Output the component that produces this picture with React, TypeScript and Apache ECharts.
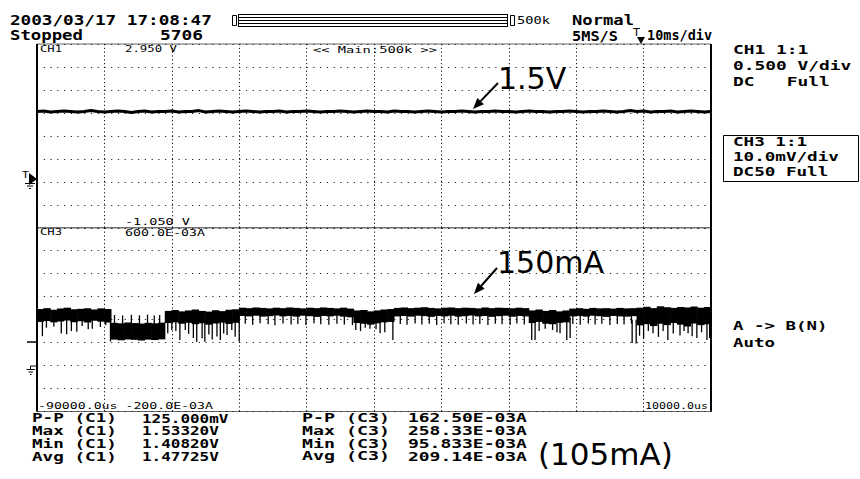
import React, { useEffect, useRef } from "react";
import * as echarts from "echarts";

// ---------- time base: -90 ms .. +10 ms, 10 ms/div ----------
const T_START = -90;
const T_STEP = 1;
const timeMin = -90;
const timeMax = 10;

// CH1 (V), one reading per ms from -90 ms to +10 ms
const ch1Volts = [
  1.48, 1.49, 1.47, 1.48, 1.49, 1.48, 1.47, 1.48, 1.5, 1.48,
  1.47, 1.48, 1.49, 1.48, 1.46, 1.48, 1.49, 1.47, 1.48, 1.48,
  1.49, 1.47, 1.48, 1.48, 1.5, 1.47, 1.48, 1.49, 1.48, 1.47,
  1.48, 1.49, 1.48, 1.47, 1.48, 1.48, 1.49, 1.47, 1.48, 1.48,
  1.49, 1.48, 1.47, 1.48, 1.48, 1.49, 1.48, 1.47, 1.48, 1.49,
  1.48, 1.48, 1.47, 1.49, 1.48, 1.48, 1.47, 1.48, 1.49, 1.48,
  1.47, 1.48, 1.48, 1.49, 1.48, 1.47, 1.48, 1.48, 1.49, 1.48,
  1.48, 1.47, 1.48, 1.49, 1.48, 1.48, 1.47, 1.48, 1.48, 1.49,
  1.48, 1.47, 1.48, 1.48, 1.49, 1.48, 1.47, 1.48, 1.5, 1.48,
  1.49, 1.47, 1.48, 1.48, 1.49, 1.47, 1.48, 1.49, 1.48, 1.47, 1.48,
];

// CH3 (mA) envelope of the noisy trace: one [low, high] per 1 ms slot, -90 ms .. +10 ms
const ch3Upper = [
  246, 250, 243, 248, 252, 245, 247, 250, 244, 249, 246,
  186, 184, 187, 185, 183, 186, 184, 187,
  238, 242, 236, 240, 244, 238, 235, 241, 237, 243, 245,
  252, 250, 253, 251, 249, 252, 250, 253, 251, 249, 252, 250, 253, 251, 249, 252, 248,
  240, 242, 236, 240, 244, 246,
  251, 253, 250, 252, 254, 251, 249, 252, 253, 250, 252, 251, 249, 253, 250, 252, 251, 249, 252, 250,
  240, 244, 238, 242, 236, 240,
  248, 250, 247, 251, 249, 250, 248, 251, 249, 250,
  252, 256, 250, 258, 254, 251, 255, 253, 257, 252, 255,
];
const ch3Lower = [
  190, 194, 188, 192, 196, 189, 193, 187, 195, 191, 188,
  113, 110, 114, 112, 109, 113, 111, 114,
  185, 188, 182, 186, 180, 184, 178, 183, 187, 181, 186,
  216, 214, 217, 213, 215, 218, 214, 216, 213, 217, 215, 212, 216, 214, 217, 213, 210,
  185, 182, 178, 184, 188, 190,
  214, 216, 213, 217, 215, 212, 216, 214, 217, 213, 215, 218, 214, 216, 212, 215, 217, 213, 216, 214,
  185, 190, 182, 180, 186, 188,
  214, 216, 213, 217, 215, 212, 216, 214, 213, 215,
  175, 180, 172, 182, 176, 185, 178, 170, 183, 176, 180,
];

// CH3 narrow glitches: [time ms, from mA, to mA]
const ch3Spikes = [
  [-89.2, 200, 128], [-88.6, 200, 165], [-87.5, 200, 170], [-86.4, 200, 140], [-85.6, 200, 136],
  [-84.9, 200, 150], [-84.1, 200, 147], [-83.3, 200, 172], [-82.4, 200, 158], [-81.8, 200, 160],
  [-80.6, 200, 168], [-79.8, 200, 175],
  [-79.1, 240, 105],
  [-78.5, 180, 220], [-77.3, 180, 218], [-76.0, 180, 221], [-74.8, 180, 219], [-73.6, 180, 222],
  [-72.6, 180, 218], [-71.8, 180, 220],
  [-70.6, 200, 141], [-70.0, 200, 155], [-69.4, 200, 150], [-68.8, 200, 111], [-68.0, 200, 155],
  [-67.5, 200, 138], [-66.8, 200, 120], [-66.3, 200, 104], [-65.5, 200, 119], [-65.1, 200, 104],
  [-64.5, 200, 135], [-64.0, 200, 114], [-63.3, 200, 126], [-62.8, 200, 111], [-62.3, 200, 140],
  [-61.8, 200, 133], [-61.1, 200, 155], [-60.6, 200, 125], [-60.0, 230, 104],
  [-59.1, 225, 182], [-58.0, 225, 178], [-56.9, 225, 184], [-55.7, 225, 180], [-54.7, 225, 176],
  [-53.5, 225, 183], [-52.3, 225, 179], [-51.3, 225, 181], [-50.1, 225, 177], [-48.9, 225, 184],
  [-47.9, 225, 180], [-46.7, 225, 178], [-45.5, 225, 182], [-44.4, 225, 179], [-43.2, 225, 176],
  [-42.7, 210, 155], [-42.0, 210, 150], [-41.3, 210, 165], [-40.6, 210, 160], [-39.7, 210, 158],
  [-39.1, 210, 141], [-38.4, 210, 145], [-37.2, 210, 111],
  [-36.1, 225, 181], [-35.1, 225, 178], [-33.9, 225, 183], [-32.9, 225, 179], [-31.8, 225, 182],
  [-30.7, 225, 177], [-29.6, 225, 184], [-28.6, 225, 180], [-27.5, 225, 178], [-26.3, 225, 183],
  [-25.3, 225, 179], [-24.3, 225, 181], [-23.1, 225, 177], [-22.0, 225, 182], [-21.0, 225, 180],
  [-19.8, 225, 178], [-18.8, 225, 183], [-17.7, 225, 179], [-16.6, 225, 111],
  [-16.1, 210, 111], [-15.5, 210, 150], [-14.6, 210, 160], [-13.5, 210, 155], [-12.85, 210, 145],
  [-12.4, 210, 141], [-11.4, 210, 111], [-10.9, 210, 120],
  [-10.5, 225, 181], [-9.4, 225, 178], [-8.2, 225, 183], [-7.2, 225, 179], [-6.2, 225, 182],
  [-5.0, 225, 177], [-3.9, 225, 181], [-2.9, 225, 179], [-1.8, 225, 183],
  [-1.7, 200, 98], [-1.1, 200, 96], [-0.6, 200, 130], [0.0, 200, 120], [0.7, 200, 150],
  [1.4, 200, 141], [2.2, 200, 125], [2.9, 200, 150], [3.6, 200, 111], [4.4, 200, 140],
  [5.4, 200, 131], [6.0, 200, 150], [6.6, 200, 141], [7.2, 200, 128], [7.9, 200, 120],
  [8.6, 200, 145], [9.4, 200, 111], [9.8, 200, 120],
];

// ---------- screen texts ----------
const headerDate = "2003/03/17 17:08:47";
const headerState = "Stopped";
const headerCount = "5706";
const headerMode = "Normal";
const headerRate = "5MS/S";
const headerTimeDiv = "10ms/div";
const memLabel = "500k";
const ch1Info = ["CH1 1:1", "0.500 V/div", "DC   Full"];
const ch3Info = ["CH3 1:1", "10.0mV/div", "DC50 Full"];
const trigInfo = ["A -> B(N)", "Auto"];
const ch1Top = "2.950 V";
const ch1Bottom = "-1.050 V";
const ch3Top = "600.0E-03A";
const ch3Bottom = "-200.0E-03A";
const timeLeft = "-90000.0us";
const timeRight = "10000.0us";
const zoomLabel = "<< Main:500k >>";
const measC1Labels = ["P-P (C1)", "Max (C1)", "Min (C1)", "Avg (C1)"];
const measC1Values = ["125.000mV", "1.53320V", "1.40820V", "1.47725V"];
const measC3Labels = ["P-P (C3)", "Max (C3)", "Min (C3)", "Avg (C3)"];
const measC3Values = ["162.50E-03A", "258.33E-03A", "95.833E-03A", "209.14E-03A"];
const noteV = "1.5V";
const noteI = "150mA";
const noteMin = "(105mA)";

const MONO = '"DejaVu Sans Mono", "Liberation Mono", monospace';
const SANS = '"DejaVu Sans", Verdana, sans-serif';

function mono(text: string, x: number, cy: number, width: number, size: number, bold: boolean) {
  const natural = text.length * 0.602 * size;
  return {
    type: "text",
    x,
    y: cy,
    scaleX: width / natural,
    silent: true,
    style: {
      text,
      font: `${bold ? "bold " : ""}${size}px ${MONO}`,
      fill: "#000",
      verticalAlign: "middle",
      textVerticalAlign: "middle",
    },
  };
}

function arrow(tx: number, ty: number, hx: number, hy: number) {
  const dx = tx - hx;
  const dy = ty - hy;
  const len = Math.sqrt(dx * dx + dy * dy);
  const ux = dx / len;
  const uy = dy / len;
  const bx = hx + ux * 11;
  const by = hy + uy * 11;
  const px = -uy * 4.5;
  const py = ux * 4.5;
  return [
    { type: "line", silent: true, shape: { x1: tx, y1: ty, x2: bx, y2: by }, style: { stroke: "#000", lineWidth: 2 } },
    {
      type: "polygon",
      silent: true,
      shape: { points: [[hx, hy], [bx + px, by + py], [bx - px, by - py]] },
      style: { fill: "#000" },
    },
  ];
}

export default function App() {
  const ref = useRef<HTMLDivElement>(null);

  useEffect(() => {
    if (!ref.current) return;
    const chart = echarts.init(ref.current, undefined, { renderer: "svg" });

    const ch1Data = ch1Volts.map((v, i) => [T_START + i * T_STEP, v]);
    const bandRows = ch3Upper.map((u, i) => [
      T_START + i * T_STEP, T_START + (i + 1) * T_STEP, ch3Lower[i], u,
    ]);

    const gridLeft = 37;
    const gridTop = 44;
    const gridW = 674;
    const gridH = 183.75;

    const xAxisBase = {
      type: "value",
      min: timeMin,
      max: timeMax,
      interval: 10,
      axisLabel: { show: false },
      axisTick: { show: false },
      axisLine: { show: false },
      splitLine: { show: true, lineStyle: { color: "#111", width: 1, type: [1.2, 2.6] } },
    };
    const divAxis = (gridIndex: number) => ({
      type: "value",
      gridIndex,
      min: 0,
      max: 8,
      interval: 1,
      axisLabel: { show: false },
      axisTick: { show: false },
      axisLine: { show: false },
      splitLine: { show: true, lineStyle: { color: "#222", width: 1, type: [1.2, 5.54] } },
    });
    const dataAxis = (gridIndex: number, min: number, max: number) => ({
      type: "value",
      gridIndex,
      min,
      max,
      show: false,
      splitLine: { show: false },
    });

    const graphics: any[] = [];
    // frame accents
    graphics.push({ type: "line", silent: true, shape: { x1: gridLeft, y1: gridTop, x2: gridLeft, y2: gridTop + 2 * gridH }, style: { stroke: "#000", lineWidth: 2 } });
    graphics.push({ type: "line", silent: true, shape: { x1: gridLeft + gridW, y1: gridTop, x2: gridLeft + gridW, y2: gridTop + 2 * gridH }, style: { stroke: "#000", lineWidth: 2 } });

    // memory bar
    graphics.push({ type: "rect", silent: true, shape: { x: 232.5, y: 15.5, width: 4, height: 10 }, style: { fill: "none", stroke: "#000", lineWidth: 1 } });
    graphics.push({ type: "rect", silent: true, shape: { x: 510.5, y: 15.5, width: 4, height: 10 }, style: { fill: "none", stroke: "#000", lineWidth: 1 } });
    [14.5, 17.5, 20.5, 23.5, 26.5].forEach((y) => {
      graphics.push({ type: "line", silent: true, shape: { x1: 238, y1: y, x2: 508, y2: y }, style: { stroke: "#000", lineWidth: 1 } });
    });
    graphics.push({ type: "line", silent: true, shape: { x1: 238.5, y1: 14.5, x2: 238.5, y2: 26.5 }, style: { stroke: "#000", lineWidth: 1 } });
    graphics.push({ type: "line", silent: true, shape: { x1: 507.5, y1: 14.5, x2: 507.5, y2: 26.5 }, style: { stroke: "#000", lineWidth: 1 } });

    // header
    graphics.push(mono(headerDate, 10, 20.5, 202, 14, true));
    graphics.push(mono(headerState, 10, 35, 73, 14, true));
    graphics.push(mono(headerCount, 160, 35, 43, 14, true));
    graphics.push(mono(headerMode, 572, 20, 62, 14, true));
    graphics.push(mono(headerRate, 572, 35.3, 46, 14, true));
    graphics.push(mono(headerTimeDiv, 647, 35.3, 65, 14, true));
    graphics.push(mono(memLabel, 517, 20.5, 33, 10, false));
    // trigger position marker
    graphics.push(mono("T", 633, 33, 7, 10, false));
    graphics.push({ type: "polygon", silent: true, shape: { points: [[637, 37], [645, 37], [641, 44]] }, style: { fill: "#000" } });

    // right panel
    ch1Info.forEach((t, i) => graphics.push(mono(t, 733, [50, 66, 82.5][i], t.length * 10.75, 12, true)));
    graphics.push({ type: "rect", silent: true, shape: { x: 723.5, y: 135.5, width: 135, height: 46 }, style: { fill: "none", stroke: "#000", lineWidth: 1 } });
    ch3Info.forEach((t, i) => graphics.push(mono(t, 733, [142.5, 157.5, 172][i], t.length * 10.6, 12, true)));
    trigInfo.forEach((t, i) => graphics.push(mono(t, 733, [326, 342.5][i], t.length * 10.5, 12, true)));

    // in-screen labels
    graphics.push(mono("CH1", 40, 49, 22, 9, false));
    graphics.push(mono(ch1Top, 125, 49, 52, 9, false));
    graphics.push(mono(zoomLabel, 313, 49.5, 124, 9, false));
    graphics.push(mono(ch1Bottom, 125, 221.5, 65, 9, false));
    graphics.push(mono("CH3", 40, 232.5, 22, 9, false));
    graphics.push(mono(ch3Top, 125, 232.5, 80, 9, false));
    graphics.push(mono(timeLeft + " " + ch3Bottom, 38, 406, 175, 9, false));
    graphics.push(mono(timeRight, 645, 406, 63, 9, false));

    // left channel markers
    graphics.push(mono("T", 22, 175, 7, 9, false));
    graphics.push({ type: "polygon", silent: true, shape: { points: [[29, 173], [37, 179], [29, 185]] }, style: { fill: "#000" } });
    graphics.push({ type: "line", silent: true, shape: { x1: 25, y1: 183.5, x2: 35, y2: 183.5 }, style: { stroke: "#000", lineWidth: 1 } });
    graphics.push({ type: "line", silent: true, shape: { x1: 27, y1: 186, x2: 33, y2: 186 }, style: { stroke: "#000", lineWidth: 1 } });
    graphics.push({ type: "line", silent: true, shape: { x1: 29, y1: 188.5, x2: 31, y2: 188.5 }, style: { stroke: "#000", lineWidth: 1 } });
    graphics.push({ type: "line", silent: true, shape: { x1: 27, y1: 342, x2: 37, y2: 342 }, style: { stroke: "#000", lineWidth: 1.5 } });
    graphics.push({ type: "line", silent: true, shape: { x1: 30.5, y1: 366, x2: 37, y2: 366 }, style: { stroke: "#000", lineWidth: 1 } });
    graphics.push({ type: "line", silent: true, shape: { x1: 30.5, y1: 366, x2: 30.5, y2: 369 }, style: { stroke: "#000", lineWidth: 1 } });
    graphics.push({ type: "line", silent: true, shape: { x1: 26.5, y1: 369.5, x2: 35, y2: 369.5 }, style: { stroke: "#000", lineWidth: 1 } });
    graphics.push({ type: "line", silent: true, shape: { x1: 28.5, y1: 372, x2: 33, y2: 372 }, style: { stroke: "#000", lineWidth: 1 } });
    graphics.push({ type: "line", silent: true, shape: { x1: 30, y1: 374.5, x2: 31.5, y2: 374.5 }, style: { stroke: "#000", lineWidth: 1 } });

    // measurements
    const rowsY = [418.5, 431.2, 443.9, 456.6];
    measC1Labels.forEach((t, i) => graphics.push(mono(t, 32, rowsY[i], 85, 12, true)));
    measC1Values.forEach((t, i) => graphics.push(mono(t, 142, rowsY[i], t.length * 9.6, 12, true)));
    measC3Labels.forEach((t, i) => graphics.push(mono(t, 302, rowsY[i], 88, 12, true)));
    measC3Values.forEach((t, i) => graphics.push(mono(t, 408, rowsY[i], 119, 12, true)));

    // annotations
    graphics.push({ type: "text", silent: true, x: 498, y: 78.5, style: { text: noteV, font: `30px ${SANS}`, fill: "#000", verticalAlign: "middle", textVerticalAlign: "middle" } });
    graphics.push(...arrow(498, 83, 473, 109));
    graphics.push({ type: "text", silent: true, x: 497, y: 262.5, style: { text: noteI, font: `30px ${SANS}`, fill: "#000", verticalAlign: "middle", textVerticalAlign: "middle" } });
    graphics.push(...arrow(497, 268, 474, 294));
    graphics.push({ type: "text", silent: true, x: 538, y: 454, style: { text: noteMin, font: `31px ${SANS}`, fill: "#000", verticalAlign: "middle", textVerticalAlign: "middle" } });

    chart.setOption({
      animation: false,
      backgroundColor: "#fff",
      grid: [
        { left: gridLeft, top: gridTop, width: gridW, height: gridH, show: true, borderColor: "#666", borderWidth: 1, backgroundColor: "transparent" },
        { left: gridLeft, top: gridTop + gridH, width: gridW, height: gridH, show: true, borderColor: "#666", borderWidth: 1, backgroundColor: "transparent" },
      ],
      xAxis: [
        { ...xAxisBase, gridIndex: 0 },
        { ...xAxisBase, gridIndex: 1 },
      ],
      yAxis: [
        divAxis(0),
        dataAxis(0, -1.05, 2.95),
        divAxis(1),
        dataAxis(1, -200, 600),
      ],
      series: [
        {
          name: "CH1",
          type: "line",
          xAxisIndex: 0,
          yAxisIndex: 1,
          data: ch1Data,
          showSymbol: false,
          symbol: "none",
          lineStyle: { color: "#000", width: 3 },
          silent: true,
        },
        {
          name: "CH3 band",
          type: "custom",
          xAxisIndex: 1,
          yAxisIndex: 3,
          data: bandRows,
          dimensions: ["t0", "t1", "lo", "hi"],
          encode: { x: [0, 1], y: [2, 3] },
          silent: true,
          renderItem: (_p: any, api: any) => {
            const a = api.coord([api.value(0), api.value(3)]);
            const b = api.coord([api.value(1), api.value(2)]);
            return {
              type: "rect",
              shape: { x: a[0] - 0.3, y: a[1], width: b[0] - a[0] + 0.6, height: b[1] - a[1] },
              style: { fill: "#000" },
            };
          },
        },
        {
          name: "CH3 spikes",
          type: "custom",
          xAxisIndex: 1,
          yAxisIndex: 3,
          data: ch3Spikes,
          dimensions: ["t", "from", "to"],
          encode: { x: 0, y: [1, 2] },
          silent: true,
          renderItem: (_p: any, api: any) => {
            const p = api.coord([api.value(0), api.value(1)]);
            const q = api.coord([api.value(0), api.value(2)]);
            return {
              type: "line",
              shape: { x1: p[0], y1: p[1], x2: q[0], y2: q[1] },
              style: { stroke: "#000", lineWidth: 1.3 },
            };
          },
        },
      ],
      graphic: graphics,
    } as any);

    return () => chart.dispose();
  }, []);

  return (
    <div
      ref={ref}
      style={{ position: "absolute", left: 0, top: 0, width: 860, height: 479, background: "#fff" }}
    />
  );
}
